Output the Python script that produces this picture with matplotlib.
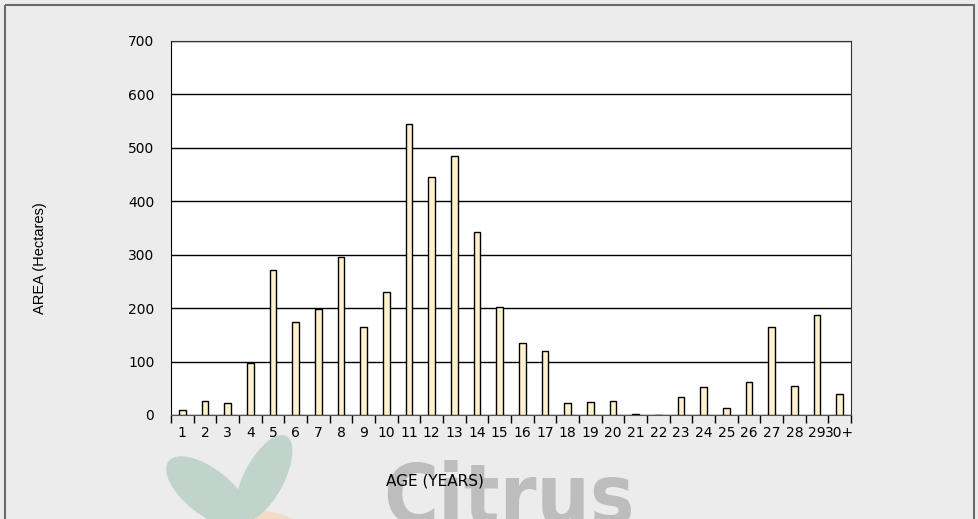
import matplotlib
matplotlib.use('Agg')
import matplotlib.pyplot as plt
from matplotlib.patches import Ellipse, Rectangle

# area by tree age
ages = [str(i) for i in range(1, 30)] + ['30+']
area = [10, 27, 23, 97, 272, 175, 199, 296, 164, 230,
        545, 445, 484, 342, 202, 134, 120, 22, 24, 26,
        1, 0, 34, 52, 13, 62, 164, 54, 188, 40]

bg = '#ececec'
fig = plt.figure(figsize=(9.79, 5.19), dpi=100, facecolor=bg)

# watermark layer (pixel coords)
wm = fig.add_axes([0, 0, 1, 1], zorder=0)
wm.set_xlim(0, 979)
wm.set_ylim(519, 0)
wm.axis('off')
wm.add_patch(Ellipse((250, 545), 130, 70, color='#f3dcc6', lw=0))
wm.add_patch(Ellipse((208, 492), 100, 46, angle=38, color='#c1d4cb', lw=0))
wm.add_patch(Ellipse((264, 478), 95, 40, angle=-62, color='#c1d4cb', lw=0))
wm.text(383, 460, 'Citrus', fontsize=60, fontweight='bold', color='#bdbdbd',
        va='top', ha='left', family='DejaVu Sans', fontstretch='condensed')
wm.add_patch(Rectangle((5.5, 4.5), 969, 530, fill=False, ec='#6a6a6a', lw=1.5))

ax = fig.add_axes([171 / 979, 1 - 415 / 519, 680 / 979, 374 / 519], zorder=1)
ax.set_facecolor('white')
x = range(len(ages))
ax.bar(x, area, width=0.3, color='#fff2cc', edgecolor='black', linewidth=1, zorder=3)

ax.set_xlim(-0.5, len(ages) - 0.5)
ax.set_ylim(0, 700)
ax.set_yticks(range(0, 701, 100))
ax.yaxis.grid(True, color='black', linewidth=1)
ax.set_axisbelow(True)
ax.tick_params(axis='y', length=0, pad=12, labelsize=10)

ax.set_xticks([i - 0.5 for i in range(len(ages) + 1)])
ax.set_xticklabels([])
ax.set_xticks(list(x), minor=True)
ax.set_xticklabels(ages, minor=True)
ax.tick_params(axis='x', which='major', length=6, direction='out', width=1)
ax.tick_params(axis='x', which='minor', length=0, pad=8, labelsize=10)

for s in ['top', 'right']:
    ax.spines[s].set_color('#333333')
ax.spines['bottom'].set_color('#555555')
ax.spines['left'].set_color('black')

fig.text(435 / 979, 1 - 481 / 519, 'AGE (YEARS)', ha='center', va='center', fontsize=11)
fig.text(40 / 979, 1 - 258 / 519, 'AREA (Hectares)', ha='center', va='center',
         rotation=90, fontsize=10.5, family='Liberation Sans')

fig.savefig('out.png', dpi=100, facecolor=bg)
